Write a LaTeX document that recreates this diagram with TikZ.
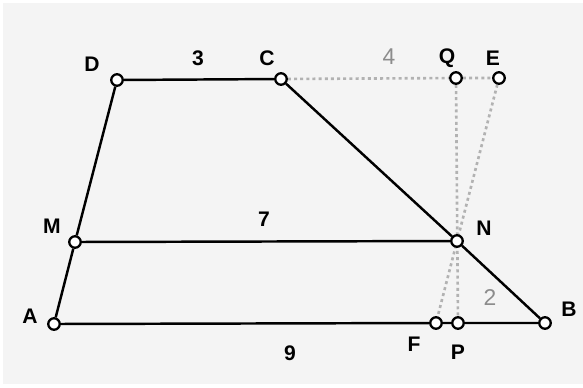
\documentclass[tikz,border=0pt]{standalone}
\usepackage{fontspec}
\setmainfont{Liberation Sans}
\usepackage{tikz}
\usetikzlibrary{backgrounds}
\definecolor{PanelGray}{RGB}{244,244,244}
\definecolor{HelpGray}{RGB}{178,178,178}
\definecolor{NumGray}{RGB}{140,140,140}

\begin{document}
\begin{tikzpicture}[x=0.02cm, y=-0.02cm,
          pt/.style={circle, draw=black, fill=white, line width=1.3pt,
                     minimum size=0.23cm, inner sep=0pt},
          seg/.style={line width=1.4pt, black},
          helper/.style={line width=1.5pt, HelpGray, dash pattern=on 1.7pt off 1.8pt},
          lab/.style={font=\fontsize{12}{14}\selectfont\bfseries},
          num/.style={font=\fontsize{12}{14}\selectfont\bfseries},
          gnum/.style={font=\fontsize{13}{15}\selectfont, NumGray}
        ]
        \useasboundingbox (0,0) rectangle (583,387);

        % points of the trapezoid
        \node[pt] (D) at (117, 80) {};
        \node[pt] (C) at (281, 79) {};
        \node[pt] (Q) at (456, 78) {};
        \node[pt] (E) at (499, 78) {};
        \node[pt] (M) at (75, 242) {};
        \node[pt] (N) at (457, 241) {};
        \node[pt] (A) at (54, 324) {};
        \node[pt] (F) at (436, 323) {};
        \node[pt] (P) at (458, 323) {};
        \node[pt] (B) at (545, 323) {};

        % letters
        \node[lab] (lD) at (92, 64) {D};
        \node[lab] (lC) at (267, 58) {C};
        \node[lab] (lQ) at (447, 58) {Q};
        \node[lab] (lE) at (493, 58) {E};
        \node[lab] (lM) at (52, 226) {M};
        \node[lab] (lN) at (484, 228) {N};
        \node[lab] (lA) at (30, 316) {A};
        \node[lab] (lB) at (569, 309) {B};
        \node[lab] (lF) at (414, 344) {F};
        \node[lab] (lP) at (458, 352) {P};

        % lengths
        \node[num] (n3) at (198, 58) {3};
        \node[num] (n7) at (264, 219) {7};
        \node[num] (n9) at (290, 353) {9};
        \node[gnum] (n4) at (389, 57) {4};
        \node[gnum] (n2) at (490, 298) {2};

        \begin{scope}[on background layer]
          \fill[white] (0,0) rectangle (583,387);
          \fill[PanelGray] (3,3) rectangle (583,384);
          % construction lines
          \draw[helper] (C) -- (Q) -- (E);
          \draw[helper] (Q) -- (P);
          \draw[helper] (E) -- (F);
          % sides
          \draw[seg] (D) -- (C);
          \draw[seg] (C) -- (N) -- (B);
          \draw[seg] (A) -- (F) -- (P) -- (B);
          \draw[seg] (A) -- (M) -- (D);
          \draw[seg] (M) -- (N);
        \end{scope}
      \end{tikzpicture}
\end{document}
